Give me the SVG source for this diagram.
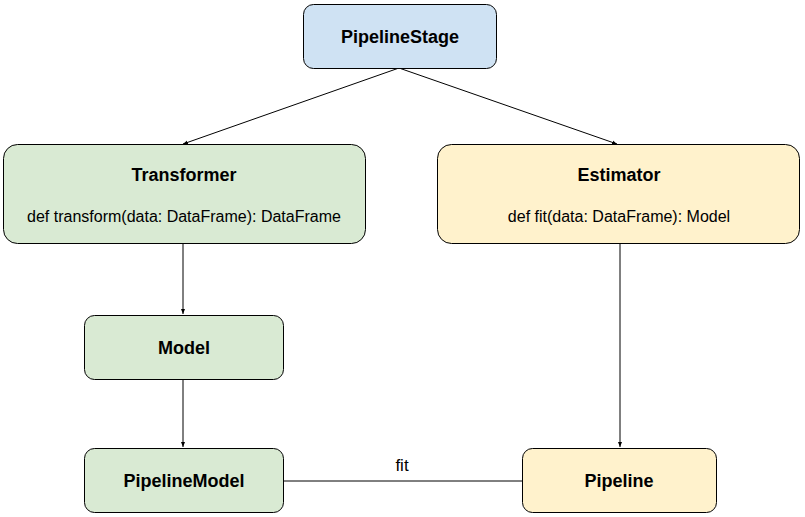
<svg xmlns="http://www.w3.org/2000/svg" width="805" height="517" viewBox="0 0 805 517">
<defs>
<marker id="arr" viewBox="0 0 10 10" refX="10" refY="5" markerWidth="5" markerHeight="5" orient="auto" markerUnits="userSpaceOnUse">
<path d="M0,1 L10,5 L0,9 Z" fill="#000"/>
</marker>
<style>
.n{stroke:#000;stroke-width:1}
.blue{fill:#cfe2f3}.green{fill:#d9ead3}.yellow{fill:#fff2cc}
.t{font-family:"Liberation Sans",Arial,sans-serif;font-size:18px;font-weight:bold;text-anchor:middle;fill:#000}
.m{font-family:"Liberation Sans",Arial,sans-serif;font-size:16px;text-anchor:middle;fill:#000}
.c{stroke:#000;stroke-width:1;fill:none}
</style>
</defs>
<rect width="805" height="517" fill="#fff"/>
<g id="connectors">
<line class="c" x1="399" y1="68" x2="183" y2="144" marker-end="url(#arr)"/>
<line class="c" x1="399" y1="68" x2="617" y2="144" marker-end="url(#arr)"/>
<line class="c" x1="183" y1="243" x2="183" y2="314" marker-end="url(#arr)"/>
<line class="c" x1="183" y1="379" x2="183" y2="447" marker-end="url(#arr)"/>
<line class="c" x1="620" y1="243" x2="620" y2="447" marker-end="url(#arr)"/>
<line class="c" x1="283" y1="481" x2="522" y2="481"/>
<text class="m" x="402" y="471" style="font-size:17px">fit</text>
</g>
<g id="PipelineStage">
<rect class="n blue" x="303.5" y="4.5" width="193" height="64" rx="10"/>
<text class="t" x="400" y="43">PipelineStage</text>
</g>
<g id="Transformer">
<rect class="n green" x="3.5" y="144.5" width="362" height="99" rx="14"/>
<text class="t" x="184" y="181">Transformer</text>
<text class="m" x="184" y="222">def transform(data: DataFrame): DataFrame</text>
</g>
<g id="Estimator">
<rect class="n yellow" x="437.5" y="144.5" width="362" height="99" rx="14"/>
<text class="t" x="619" y="181">Estimator</text>
<text class="m" x="619" y="222">def fit(data: DataFrame): Model</text>
</g>
<g id="Model">
<rect class="n green" x="84.5" y="315.5" width="199" height="64" rx="10"/>
<text class="t" x="184" y="354">Model</text>
</g>
<g id="PipelineModel">
<rect class="n green" x="84.5" y="448.5" width="199" height="64" rx="10"/>
<text class="t" x="184" y="487">PipelineModel</text>
</g>
<g id="Pipeline">
<rect class="n yellow" x="522.5" y="448.5" width="194" height="64" rx="10"/>
<text class="t" x="619" y="487">Pipeline</text>
</g>
</svg>
